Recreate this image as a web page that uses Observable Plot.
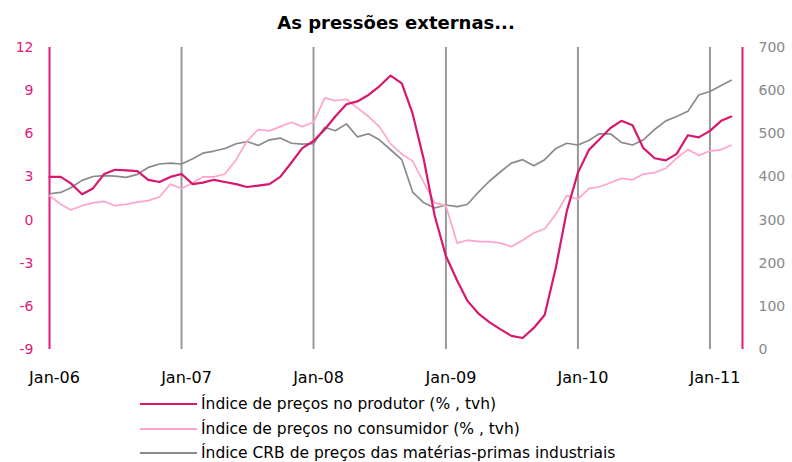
<!DOCTYPE html>
<html>
<head>
<meta charset="utf-8">
<script src="https://cdn.jsdelivr.net/npm/d3@7"></script>
<script src="https://cdn.jsdelivr.net/npm/@observablehq/plot@0.6"></script>
<style>
  html, body { margin: 0; padding: 0; background: #fff; }
  body { width: 792px; height: 462px; overflow: hidden; font-family: "DejaVu Sans", sans-serif; }
  #title { box-sizing: border-box; height: 36px; padding-top: 12px; line-height: 1; font: bold 18px "DejaVu Sans", sans-serif; text-align: center; color: #000; }
  #legend { padding-left: 140px; margin-top: 0px; }
  .row { display: flex; align-items: center; height: 24.5px; font-size: 15.5px; color: #000; }
  .sw { width: 57px; height: 2px; margin-right: 4px; }
</style>
</head>
<body>
<div id="title">As pressões externas...</div>
<div id="chart"></div>
<div id="legend"></div>
<script>
// ---- data (monthly, Jan-2006 .. Mar-2011) ----
const startYear = 2006;
const xLabels = ["Jan-06", "Jan-07", "Jan-08", "Jan-09", "Jan-10", "Jan-11"];
const leftTicks = [-9, -6, -3, 0, 3, 6, 9, 12];
const rightTicks = [0, 100, 200, 300, 400, 500, 600, 700];

const seriesNames = [
  "Índice de preços no produtor (% , tvh)",
  "Índice de preços no consumidor (% , tvh)",
  "Índice CRB de preços das matérias-primas industriais"
];

// Índice de preços no produtor (% tvh) — left axis
const ppi = [3.0, 3.0, 2.55, 1.8, 2.2, 3.2, 3.5, 3.45, 3.4, 2.8, 2.65, 3.0,
             3.2, 2.5, 2.6, 2.8, 2.65, 2.5, 2.3, 2.4, 2.5, 3.0, 4.0, 5.0,
             5.5, 6.3, 7.2, 8.05, 8.25, 8.7, 9.3, 10.05, 9.5, 7.4, 4.2, 0.3,
             -2.5, -4.2, -5.6, -6.5, -7.1, -7.6, -8.05, -8.2, -7.5, -6.6, -3.3, 0.6,
             3.3, 4.9, 5.6, 6.4, 6.9, 6.6, 5.0, 4.3, 4.15, 4.6, 5.9, 5.75,
             6.2, 6.9, 7.2];
// Índice de preços no consumidor (% tvh) — left axis
const cpi = [1.7, 1.1, 0.7, 1.0, 1.2, 1.3, 1.0, 1.1, 1.25, 1.35, 1.6, 2.5,
             2.2, 2.6, 3.0, 3.0, 3.2, 4.2, 5.5, 6.3, 6.2, 6.5, 6.8, 6.5,
             6.8, 8.5, 8.3, 8.4, 7.8, 7.2, 6.5, 5.3, 4.6, 4.1, 2.6, 1.2,
             1.0, -1.6, -1.4, -1.5, -1.5, -1.6, -1.85, -1.4, -0.9, -0.6, 0.4, 1.7,
             1.45, 2.2, 2.3, 2.6, 2.9, 2.8, 3.2, 3.3, 3.6, 4.3, 4.9, 4.5,
             4.8, 4.9, 5.2];
// Índice CRB (level) — right axis
const crb = [361, 364, 375, 392, 401, 403, 402, 399, 406, 422, 430, 432,
             430, 442, 455, 460, 466, 477, 482, 473, 486, 490, 478, 476,
             477, 515, 507, 523, 493, 500, 486, 463, 440, 365, 340, 328,
             335, 331, 336, 365, 390, 412, 432, 440, 426, 440, 466, 478,
             474, 485, 500, 500, 480, 474, 486, 510, 530, 540, 552, 590,
             598, 612, 624];

// ---- build table ----
const month = i => new Date(Date.UTC(startYear, i, 1));
const table = ppi.map((v, i) => ({date: month(i), ppi: v, cpi: cpi[i], crb: crb[i]}));

// right axis (0..700) mapped onto left scale (-9..12)
const toLeft = v => -9 + v * 21 / 700;

const magenta = "#e0197d";
const cPPI = "#d6186e", cCPI = "#ffa3cf", cCRB = "#8a8a8a";
const xStart = month(0), xEnd = month(63);
const yearStarts = xLabels.map((_, k) => month(12 * k));

const chart = Plot.plot({
  width: 792,
  height: 356,
  marginTop: 11,
  marginBottom: 43,
  marginLeft: 49,
  marginRight: 50,
  style: {fontFamily: "DejaVu Sans, sans-serif", fontSize: "14px", background: "#fff"},
  x: {type: "utc", domain: [xStart, xEnd]},
  y: {domain: [-9, 12]},
  marks: [
    Plot.ruleX(yearStarts.slice(1), {stroke: "#999", strokeWidth: 2}),
    Plot.ruleX([xStart, xEnd], {stroke: magenta, strokeWidth: 2}),
    Plot.line(table, {x: "date", y: d => toLeft(d.crb), stroke: cCRB, strokeWidth: 1.7}),
    Plot.line(table, {x: "date", y: "cpi", stroke: cCPI, strokeWidth: 1.7}),
    Plot.line(table, {x: "date", y: "ppi", stroke: cPPI, strokeWidth: 2.2}),
    Plot.axisY(leftTicks, {anchor: "left", tickSize: 0, tickPadding: 16, fill: magenta, fontSize: 14,
      tickFormat: d => String(d)}),
    Plot.axisY(rightTicks.map(toLeft), {anchor: "right", tickSize: 0, tickPadding: 16, fill: "#888", fontSize: 14,
      tickFormat: (d) => String(Math.round((d + 9) * 700 / 21))}),
    Plot.axisX(yearStarts, {anchor: "bottom", tickSize: 0, tickPadding: 22, dx: 5, fill: "#000", fontSize: 16,
      tickFormat: d => xLabels[d.getUTCFullYear() - startYear]})
  ]
});
document.getElementById("chart").appendChild(chart);

// ---- legend ----
const legend = document.getElementById("legend");
[cPPI, cCPI, cCRB].forEach((c, i) => {
  const row = document.createElement("div");
  row.className = "row";
  const sw = document.createElement("span");
  sw.className = "sw";
  sw.style.background = c;
  const tx = document.createElement("span");
  tx.textContent = seriesNames[i];
  row.appendChild(sw);
  row.appendChild(tx);
  legend.appendChild(row);
});
</script>
</body>
</html>
